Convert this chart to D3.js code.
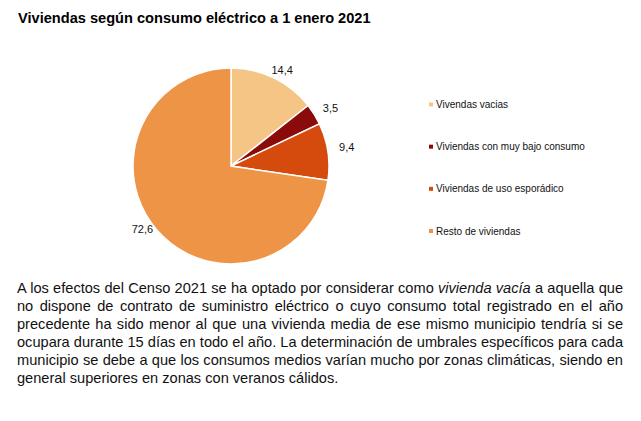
<!DOCTYPE html>
<html>
<head>
<meta charset="utf-8">
<title>Viviendas según consumo eléctrico</title>
<style>
  body { margin: 0; background: #fff; font-family: "Liberation Sans", Arial, sans-serif; }
  #chart { position: absolute; left: 0; top: 0; }
  .title { font-weight: bold; font-size: 14.6px; fill: #000; }
  .lbl { font-size: 11px; fill: #111; }
  .leg { font-size: 10px; fill: #111; }
  #note {
    position: absolute; left: 17px; top: 279px; width: 606px;
    font-size: 14.6px; line-height: 18px; color: #111;
  }
  #note div { text-align: justify; text-align-last: justify; white-space: nowrap; }
  #note div.last { text-align-last: left; }
</style>
</head>
<body>
<svg id="chart" width="641" height="421"></svg>
<div id="note"></div>

<script src="https://d3js.org/d3.v7.min.js"></script>
<script>

// data
var categories = ["Vivendas vacias", "Viviendas con muy bajo consumo", "Viviendas de uso esporádico", "Resto de viviendas"];
var values = [14.4, 3.5, 9.4, 72.6];
var colors = ["#F5C585", "#8B0B0B", "#D54B0E", "#EE9447"];

var title = "Viviendas según consumo eléctrico a 1 enero 2021";
var noteLines = [
  "A los efectos del Censo 2021 se ha optado por considerar como <i>vivienda vacía</i> a aquella que",
  "no dispone de contrato de suministro eléctrico o cuyo consumo total registrado en el año",
  "precedente ha sido menor al que una vivienda media de ese mismo municipio tendría si se",
  "ocupara durante 15 días en todo el año. La determinación de umbrales específicos para cada",
  "municipio se debe a que los consumos medios varían mucho por zonas climáticas, siendo en",
  "general superiores en zonas con veranos cálidos."
];

var data = categories.map(function(c, i) { return {name: c, value: values[i], color: colors[i]}; });

var svg = d3.select("#chart");

svg.append("text")
    .attr("class", "title")
    .attr("x", 18)
    .attr("y", 23)
    .text(title);

// pie
var cx = 231, cy = 166, r = 98;

var pie = d3.pie()
    .sort(null)
    .value(function(d) { return d.value; });

var arc = d3.arc()
    .innerRadius(0)
    .outerRadius(r);

var g = svg.append("g")
    .attr("transform", "translate(" + cx + "," + cy + ")");

var arcs = pie(data);

g.selectAll("path")
    .data(arcs)
  .enter().append("path")
    .attr("d", arc)
    .attr("fill", function(d) { return d.data.color; })
    .attr("stroke", "#fff")
    .attr("stroke-width", 1.5);

// labels outside the pie
g.selectAll(".lbl")
    .data(arcs)
  .enter().append("text")
    .attr("class", "lbl")
    .attr("text-anchor", "middle")
    .attr("dy", "0.35em")
    .attr("x", function(d) {
      var a = (d.startAngle + d.endAngle) / 2;
      return Math.sin(a) * (r + 19);
    })
    .attr("y", function(d) {
      var a = (d.startAngle + d.endAngle) / 2;
      return -Math.cos(a) * (r + 4) - 4;
    })
    .text(function(d) { return d3.format(".1f")(d.data.value).replace(".", ","); });

// legend
var ly = d3.scalePoint()
    .domain(categories)
    .range([104.5, 231]);

var leg = svg.append("g").selectAll("g")
    .data(data)
  .enter().append("g")
    .attr("transform", function(d) { return "translate(431," + ly(d.name) + ")"; });

leg.append("rect")
    .attr("x", -2)
    .attr("y", -2)
    .attr("width", 4)
    .attr("height", 4)
    .attr("fill", function(d) { return d.color; });

leg.append("text")
    .attr("class", "leg")
    .attr("x", 5)
    .attr("dy", "0.35em")
    .text(function(d) { return d.name; });

// text below
d3.select("#note").selectAll("div")
    .data(noteLines)
  .enter().append("div")
    .attr("class", function(d, i) { return i == noteLines.length - 1 ? "last" : null; })
    .html(function(d) { return d; });

</script>
</body>
</html>
